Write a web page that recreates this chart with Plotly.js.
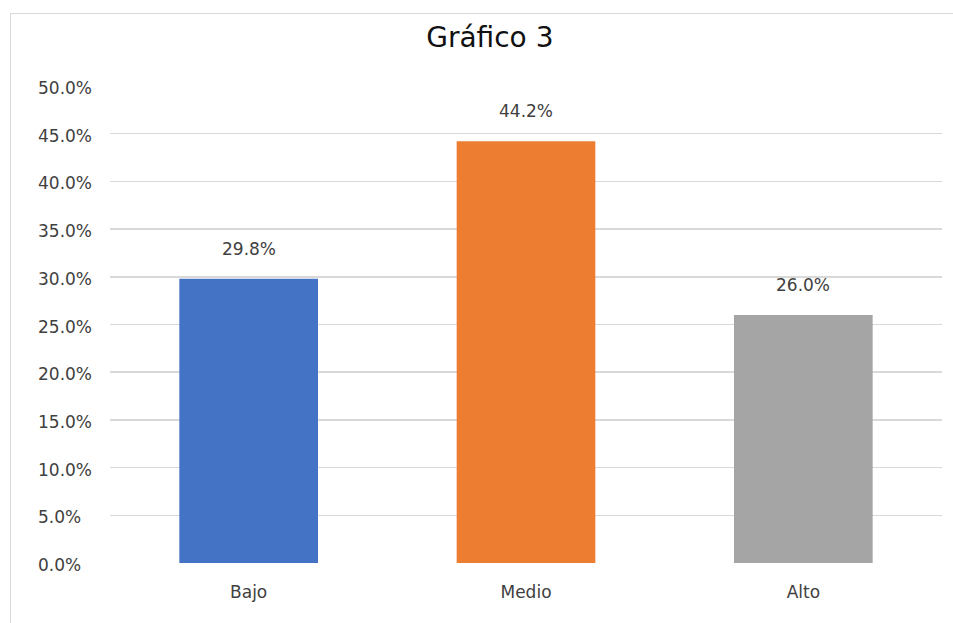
<!DOCTYPE html>
<html><head><meta charset="utf-8">
<script src="https://cdn.plot.ly/plotly-3.0.1.min.js"></script>
<style>
html,body{margin:0;padding:0;background:#fff;overflow:hidden;}
#frame{position:absolute;left:10px;top:13px;width:960px;height:640px;border:1px solid #d9d9d9;box-sizing:border-box;}
#chart{position:absolute;left:0;top:0;width:953px;height:623px;}
</style></head>
<body>
<div id="frame"></div>
<div id="chart"></div>
<script>
const categories = ["Bajo", "Medio", "Alto"];
const values = [0.298, 0.442, 0.260];
const labels = ["29.8%", "44.2%", "26.0%"];
const colors = ["#4472C4", "#ED7D31", "#A5A5A5"];
const yTicks = [0, 0.05, 0.10, 0.15, 0.20, 0.25, 0.30, 0.35, 0.40, 0.45, 0.50];
const yTickText = ["0.0%", "5.0%", "10.0%", "15.0%", "20.0%", "25.0%", "30.0%", "35.0%", "40.0%", "45.0%", "50.0%"];

const font = "'DejaVu Sans', 'Open Sans', sans-serif";
const textColor = "#404040";
const trace = {
  type: "bar", x: categories, y: values,
  marker: {color: colors}, hoverinfo: "none"
};
const valueAnnotations = categories.map((c, i) => ({
  x: c, y: values[i], text: labels[i], showarrow: false,
  yanchor: "bottom", yshift: 18, font: {family: font, size: 17, color: textColor}
}));
// left-aligned y tick labels, positioned by the y axis scale
const tickAnnotations = yTicks.map((v, i) => ({
  xref: "paper", yref: "y", x: -0.0885, y: v, text: yTickText[i],
  xanchor: "left", yanchor: "middle", showarrow: false, yshift: -2,
  font: {family: font, size: 17, color: textColor}
}));
const layout = {
  width: 953, height: 623,
  margin: {l: 110, r: 11, t: 86, b: 60},
  paper_bgcolor: "rgba(0,0,0,0)", plot_bgcolor: "rgba(0,0,0,0)",
  title: {text: "Gráfico 3", x: 0.514, xanchor: "center", y: 0.94, yanchor: "middle",
          font: {family: font, size: 28, color: "#111"}},
  bargap: 0.5,
  showlegend: false,
  xaxis: {showgrid: false, zeroline: false, showline: false,
          ticks: "outside", ticklen: 14, tickcolor: "rgba(0,0,0,0)",
          tickfont: {family: font, size: 17, color: textColor}},
  yaxis: {range: [0, 0.5], tickvals: yTicks, showticklabels: false,
          showgrid: true, gridcolor: "#d9d9d9", gridwidth: 1.5, zeroline: false, showline: false},
  annotations: valueAnnotations.concat(tickAnnotations)
};
Plotly.newPlot("chart", [trace], layout, {displayModeBar: false, staticPlot: true});
</script>
</body></html>
